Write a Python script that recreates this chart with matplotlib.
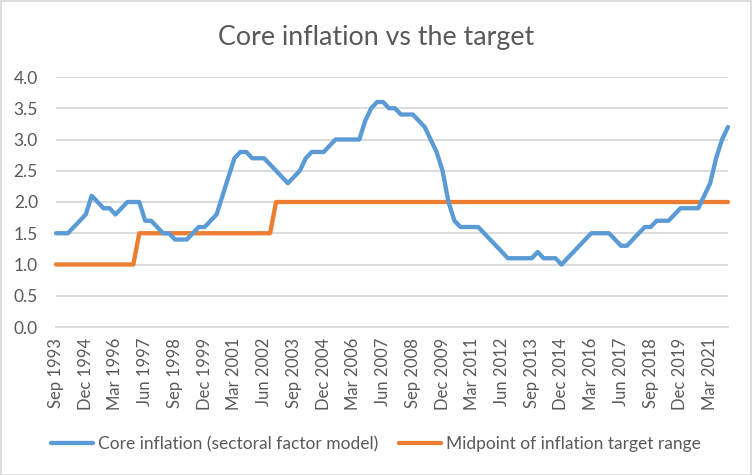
import matplotlib
matplotlib.use("Agg")
import matplotlib.pyplot as plt
from matplotlib.patches import Rectangle
from matplotlib.lines import Line2D

# ---- data ----
months = ["Mar", "Jun", "Sep", "Dec"]
start_year = 1993
core = [1.5, 1.5, 1.5, 1.6, 1.7, 1.8, 2.1, 2.0, 1.9, 1.9,
        1.8, 1.9, 2.0, 2.0, 2.0, 1.7, 1.7, 1.6, 1.5, 1.5,
        1.4, 1.4, 1.4, 1.5, 1.6, 1.6, 1.7, 1.8, 2.1, 2.4,
        2.7, 2.8, 2.8, 2.7, 2.7, 2.7, 2.6, 2.5, 2.4, 2.3,
        2.4, 2.5, 2.7, 2.8, 2.8, 2.8, 2.9, 3.0, 3.0, 3.0,
        3.0, 3.0, 3.3, 3.5, 3.6, 3.6, 3.5, 3.5, 3.4, 3.4,
        3.4, 3.3, 3.2, 3.0, 2.8, 2.5, 2.0, 1.7, 1.6, 1.6,
        1.6, 1.6, 1.5, 1.4, 1.3, 1.2, 1.1, 1.1, 1.1, 1.1,
        1.1, 1.2, 1.1, 1.1, 1.1, 1.0, 1.1, 1.2, 1.3, 1.4,
        1.5, 1.5, 1.5, 1.5, 1.4, 1.3, 1.3, 1.4, 1.5, 1.6,
        1.6, 1.7, 1.7, 1.7, 1.8, 1.9, 1.9, 1.9, 1.9, 2.1,
        2.3, 2.7, 3.0, 3.2]
target = [1.0] * 14 + [1.5] * 23 + [2.0] * 77

# quarter category labels starting Sep 1993
categories = []
m, y = 2, start_year
for _ in range(len(core)):
    categories.append(f"{months[m]} {y}")
    m += 1
    if m == 4:
        m, y = 0, y + 1

tick_step = 5
yticks = [0.0, 0.5, 1.0, 1.5, 2.0, 2.5, 3.0, 3.5, 4.0]

title = "Core inflation vs the target"
label_core = "Core inflation (sectoral factor model)"
label_target = "Midpoint of inflation target range"

# ---- style ----
blue = "#5B9BD5"
orange = "#ED7D31"
txt = "#595959"
grid = "#D9D9D9"
plt.rcParams["font.family"] = ["Lato", "DejaVu Sans"]

W, H = 752, 475
fig = plt.figure(figsize=(W / 100, H / 100), dpi=100)
ax = fig.add_axes([56 / W, 1 - 327 / H, (728 - 56) / W, (327 - 77) / H])

x = list(range(len(core)))
ax.plot(x, target, color=orange, lw=3.1, solid_joinstyle="round",
        solid_capstyle="round", clip_on=False, zorder=3)
ax.plot(x, core, color=blue, lw=3.1, solid_joinstyle="round",
        solid_capstyle="round", clip_on=False, zorder=4)

ax.set_xlim(0, len(core) - 1)
ax.set_ylim(0, 4)
ax.set_yticks(yticks)
ax.set_yticklabels([f"{v:.1f}" for v in yticks])
ax.yaxis.grid(True, color=grid, lw=1.3)
ax.set_axisbelow(True)
tpos = list(range(0, len(core), tick_step))
ax.set_xticks(tpos)
ax.set_xticklabels([categories[i] for i in tpos], rotation=90)
for s in ["top", "right", "left"]:
    ax.spines[s].set_visible(False)
ax.spines["bottom"].set_color(grid)
ax.spines["bottom"].set_linewidth(1.3)
ax.tick_params(axis="both", length=0, colors=txt, labelsize=12.5)
ax.tick_params(axis="x", labelsize=12)
ax.tick_params(axis="y", pad=13)
ax.tick_params(axis="x", pad=8)

fig.text(0.5, 1 - 37 / H, title, ha="center", va="center", fontsize=19.3, color=txt)

handles = [Line2D([], [], color=blue, lw=3.1, solid_capstyle="round"),
           Line2D([], [], color=orange, lw=3.1, solid_capstyle="round")]
fig.legend(handles, [label_core, label_target], loc="center",
           bbox_to_anchor=(0.5, 1 - 444 / H), ncol=2, frameon=False,
           fontsize=12.5, labelcolor=txt, handlelength=2.4, handletextpad=0.3,
           columnspacing=1.2)

fig.patches.append(Rectangle((0.5 / W, 0.5 / H), 1 - 1.5 / W, 1 - 1.5 / H,
                             transform=fig.transFigure, fill=False,
                             edgecolor=grid, lw=1.2))

fig.savefig("out.png", dpi=100)
